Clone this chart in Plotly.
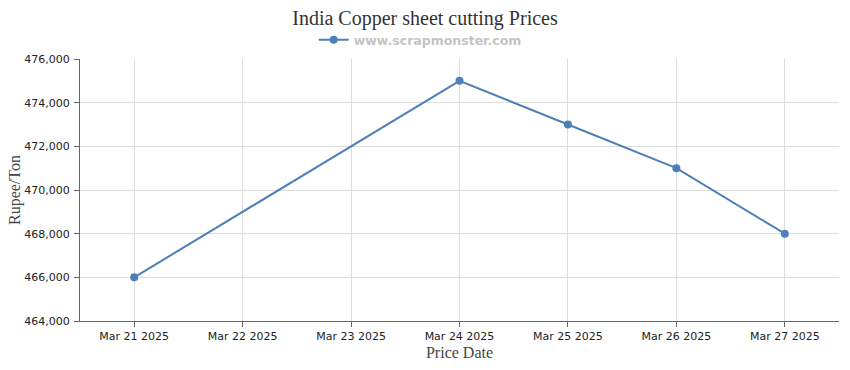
import plotly.graph_objects as go

dates = ["2025-03-21", "2025-03-24", "2025-03-25", "2025-03-26", "2025-03-27"]
prices = [466000, 475000, 473000, 471000, 468000]
tick_dates = ["2025-03-21", "2025-03-22", "2025-03-23", "2025-03-24", "2025-03-25", "2025-03-26", "2025-03-27"]
tick_labels = ["Mar 21 2025", "Mar 22 2025", "Mar 23 2025", "Mar 24 2025", "Mar 25 2025", "Mar 26 2025", "Mar 27 2025"]
y_ticks = [464000, 466000, 468000, 470000, 472000, 474000, 476000]

color = "#4f7fb8"
W, H = 850, 370
OFF = 8  # page body offset
PL, PR = 80, 839  # plot left/right in screenshot px

fig = go.Figure()
fig.add_trace(go.Scatter(
    x=dates, y=prices, mode="lines+markers", name="www.scrapmonster.com",
    line=dict(color=color, width=2), marker=dict(color=color, size=8),
))

fig.update_layout(
    width=W, height=H,
    margin=dict(l=PL - OFF, r=W + OFF - PR, t=59 - OFF, b=H + OFF - 321, autoexpand=False),
    paper_bgcolor="white", plot_bgcolor="white",
    title=dict(text="India Copper sheet cutting Prices", x=(425 - OFF) / W, xanchor="center",
               y=1 - (18 - OFF) / H, yref="container", yanchor="middle",
               font=dict(family="Liberation Serif", size=20, color="#333333")),
    showlegend=True,
    legend=dict(orientation="h", x=(389 - OFF) / W, xanchor="center", y=1 - (40 - OFF) / H,
                yref="container", yanchor="middle",
                font=dict(family="DejaVu Sans", size=12.5, color="#c4c4c4", weight="bold"),
                bgcolor="rgba(0,0,0,0)", itemwidth=30),
    xaxis=dict(
        type="date", range=["2025-03-20 12:00", "2025-03-27 12:00"],
        tickvals=tick_dates, ticktext=tick_labels,
        showgrid=True, gridcolor="#dddddd", gridwidth=1,
        showline=True, linecolor="#666666", linewidth=1,
        ticks="outside", ticklen=5, tickcolor="#666666",
        tickfont=dict(family="DejaVu Sans", size=11, color="#222222"),
        title=dict(text="Price Date", font=dict(family="Liberation Serif", size=16, color="#444444"), standoff=4),
        zeroline=False, automargin=False,
    ),
    yaxis=dict(
        range=[464000, 476000], tickvals=y_ticks, tickformat=",d",
        showgrid=True, gridcolor="#dddddd", gridwidth=1,
        showline=True, linecolor="#666666", linewidth=1,
        ticks="outside", ticklen=5, tickcolor="#666666", ticklabelstandoff=2,
        tickfont=dict(family="DejaVu Sans", size=11, color="#222222"),
        zeroline=False, automargin=False,
    ),
    annotations=[dict(
        text="Rupee/Ton", xref="paper", yref="paper",
        x=(15 - PL) / (PR - PL), y=0.5, xanchor="center", yanchor="middle",
        textangle=-90, showarrow=False,
        font=dict(family="Liberation Serif", size=16, color="#444444"),
    )],
)
fig.write_html("out.html")
